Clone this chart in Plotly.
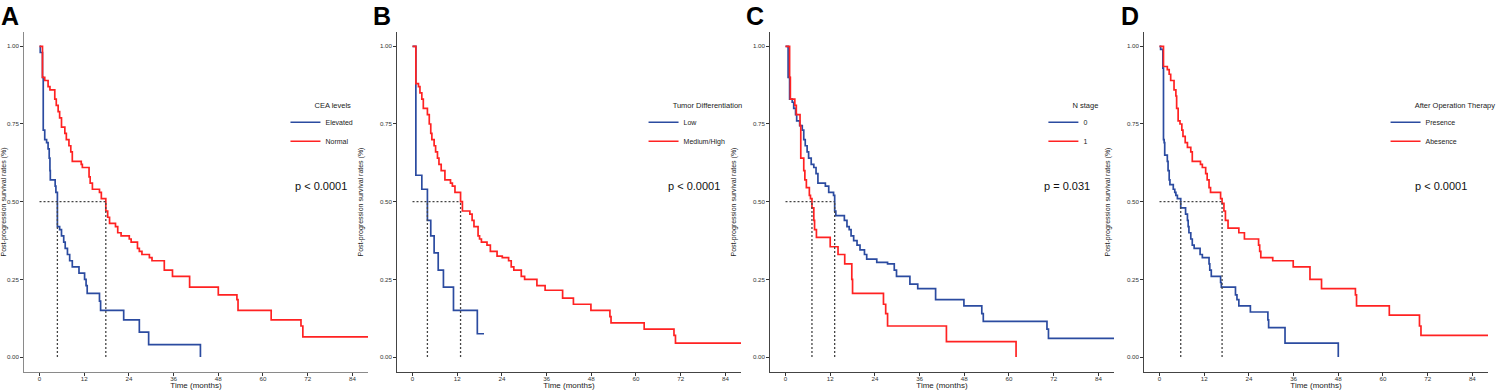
import plotly.graph_objects as go

# ---------------- data ----------------
# Panel A: CEA levels
a_elev_t = [0, 0.2, 0.8, 1.0, 1.4, 1.9, 2.3, 2.6, 2.8, 2.9, 4.2, 4.4, 4.8, 5.4, 5.9, 6.5, 6.9, 7.5, 8.1, 8.8,
            10.6, 12.1, 12.5, 12.8, 16.1, 16.4, 22.6, 26.8, 29.3, 43.2]
a_elev_s = [1.0, 0.98, 0.90, 0.73, 0.70, 0.69, 0.67, 0.64, 0.60, 0.57, 0.55, 0.53, 0.42, 0.41, 0.39, 0.37, 0.35, 0.33, 0.31, 0.29,
            0.27, 0.25, 0.23, 0.205, 0.18, 0.15, 0.12, 0.08, 0.04, 0.0]
a_norm_t = [0, 0.8, 1.4, 2.3, 2.8, 4.1, 4.5, 5.0, 5.4, 5.9, 6.8, 7.2, 7.9, 8.4, 8.8, 11.2, 11.5, 13.3, 13.6, 14.2,
            16.1, 16.6, 17.8, 18.3, 18.8, 20.4, 21.0, 21.9, 24.1, 24.6, 26.3, 26.8, 27.5, 29.5, 30.2, 33.5, 35.7,
            40.3, 48.0, 53.0, 53.3, 62.2, 70.2, 70.7, 88.2]
a_norm_s = [1.0, 0.90, 0.89, 0.87, 0.86, 0.83, 0.81, 0.79, 0.77, 0.74, 0.72, 0.70, 0.68, 0.66, 0.63, 0.62, 0.61, 0.58, 0.56, 0.54,
            0.53, 0.51, 0.47, 0.45, 0.43, 0.42, 0.40, 0.39, 0.38, 0.37, 0.35, 0.34, 0.33, 0.32, 0.31, 0.28, 0.26,
            0.225, 0.20, 0.185, 0.15, 0.12, 0.10, 0.065, 0.065]

# Panel B: Tumor Differentiation
b_low_t = [0, 0.9, 2.5, 4.0, 4.9, 5.8, 6.9, 8.3, 11.0, 17.4, 19.2]
b_low_s = [1.0, 0.585, 0.54, 0.44, 0.39, 0.335, 0.28, 0.225, 0.15, 0.075, 0.075]
b_mh_t = [0, 0.9, 1.6, 2.0, 2.5, 2.9, 4.0, 4.5, 4.9, 5.2, 5.8, 6.2, 6.7, 7.1, 7.7, 8.7, 10.2, 10.7, 11.4, 12.9,
          13.4, 15.4, 16.0, 16.5, 17.6, 18.0, 18.5, 20.0, 20.9, 22.7, 24.1, 25.8, 26.5, 27.2, 29.2, 30.1, 33.4,
          35.6, 40.3, 43.2, 47.9, 53.0, 53.3, 62.2, 70.2, 70.6, 88.2]
b_mh_s = [1.0, 0.88, 0.87, 0.85, 0.83, 0.80, 0.78, 0.75, 0.72, 0.70, 0.68, 0.66, 0.64, 0.62, 0.60, 0.57, 0.56, 0.55, 0.53, 0.50,
          0.47, 0.46, 0.44, 0.42, 0.39, 0.38, 0.37, 0.36, 0.34, 0.325, 0.32, 0.31, 0.29, 0.28, 0.26, 0.25, 0.23,
          0.215, 0.19, 0.17, 0.15, 0.13, 0.11, 0.09, 0.07, 0.045, 0.045]

# Panel C: N stage
c_n0_t = [0, 0.7, 1.1, 1.8, 2.2, 2.7, 3.0, 3.8, 4.5, 4.9, 5.3, 5.8, 6.2, 6.9, 7.6, 8.2, 8.7, 10.7, 11.6, 12.9,
          13.2, 13.5, 15.8, 16.5, 17.1, 17.6, 18.3, 19.2, 20.0, 21.2, 21.8, 24.5, 27.4, 29.2, 29.8, 33.4, 35.5,
          40.3, 47.9, 52.7, 53.1, 70.2, 70.6, 88.2]
c_n0_s = [1.0, 0.90, 0.83, 0.82, 0.80, 0.78, 0.76, 0.745, 0.73, 0.70, 0.68, 0.66, 0.64, 0.62, 0.61, 0.59, 0.56, 0.55, 0.53, 0.52,
          0.47, 0.455, 0.44, 0.42, 0.41, 0.39, 0.375, 0.36, 0.345, 0.33, 0.315, 0.305, 0.30, 0.28, 0.26, 0.235, 0.22,
          0.185, 0.165, 0.14, 0.115, 0.09, 0.06, 0.06]
c_n1_t = [0, 1.1, 1.3, 2.5, 2.9, 3.9, 4.1, 4.9, 5.2, 5.6, 6.4, 6.7, 7.1, 7.6, 7.8, 8.3, 12.0, 14.1, 15.9, 17.8,
          18.0, 26.3, 26.9, 27.4, 43.2, 61.9]
c_n1_s = [1.0, 0.90, 0.83, 0.81, 0.78, 0.745, 0.64, 0.60, 0.57, 0.545, 0.52, 0.51, 0.48, 0.44, 0.41, 0.385, 0.355, 0.33, 0.30, 0.25,
          0.205, 0.17, 0.14, 0.10, 0.05, 0.0]

# Panel D: After Operation Therapy
d_pre_t = [0, 0.3, 0.9, 1.07, 1.25, 1.4, 2.1, 2.3, 2.6, 2.8, 3.7, 4.1, 4.4, 4.8, 5.7, 7.0, 7.5, 7.7, 7.9, 8.4,
           8.8, 9.3, 10.9, 11.5, 13.3, 13.5, 13.9, 16.4, 16.6, 20.4, 20.8, 21.3, 24.4, 29.1, 29.3, 33.7, 48.0]
d_pre_s = [1.0, 0.99, 0.93, 0.70, 0.69, 0.65, 0.63, 0.60, 0.57, 0.555, 0.54, 0.53, 0.52, 0.51, 0.48, 0.46, 0.44, 0.42, 0.40, 0.38,
           0.36, 0.35, 0.33, 0.32, 0.30, 0.28, 0.26, 0.24, 0.225, 0.20, 0.185, 0.165, 0.145, 0.12, 0.095, 0.045, 0.0]
d_abs_t = [0, 1.07, 2.1, 2.6, 3.0, 3.9, 4.4, 4.6, 5.0, 5.5, 6.0, 6.3, 6.9, 7.5, 8.4, 8.8, 11.0, 11.5, 12.4, 12.8,
           13.3, 13.7, 16.4, 16.8, 17.3, 17.7, 18.4, 21.3, 22.8, 26.6, 26.9, 27.2, 30.4, 35.9, 40.4, 43.5, 52.6,
           52.9, 61.7, 69.8, 70.2, 88.2]
d_abs_s = [1.0, 0.935, 0.925, 0.91, 0.89, 0.86, 0.84, 0.80, 0.76, 0.75, 0.73, 0.71, 0.69, 0.675, 0.66, 0.63, 0.62, 0.61, 0.59, 0.57,
           0.545, 0.53, 0.51, 0.495, 0.47, 0.44, 0.415, 0.40, 0.38, 0.36, 0.34, 0.32, 0.31, 0.29, 0.25, 0.22, 0.20,
           0.165, 0.135, 0.10, 0.07, 0.07]

panel_letters = ["A", "B", "C", "D"]
legend_titles = ["CEA levels", "Tumor Differentiation", "N stage", "After Operation Therapy"]
blue_names = ["Elevated", "Low", "0", "Presence"]
red_names = ["Normal", "Medium/High", "1", "Abesence"]
p_values = ["p < 0.0001", "p < 0.0001", "p = 0.031", "p < 0.0001"]
x_ticks = [0, 12, 24, 36, 48, 60, 72, 84]
y_ticks = [0.0, 0.25, 0.5, 0.75, 1.0]

blue_curves = [(a_elev_t, a_elev_s), (b_low_t, b_low_s), (c_n0_t, c_n0_s), (d_pre_t, d_pre_s)]
red_curves = [(a_norm_t, a_norm_s), (b_mh_t, b_mh_s), (c_n1_t, c_n1_s), (d_abs_t, d_abs_s)]

# ---------------- styling ----------------
W, H = 1498, 390
FONT = "Liberation Sans, Arial, Helvetica, sans-serif"
BLUE = "#2B4BA0"
RED = "#FF2222"
plot_left_px = [24, 399, 774, 1150]
plot_w_px = 346
plot_top_px, plot_bot_px = 32, 372
axis_colors = ["#8a8a8a", "#444444", "#444444", "#444444"]
letter_px = [10, 384, 759, 1136]
legend_px = [287, 647, 1049, 1393]
NBSP = "\u00a0"


def median_time(t, s):
    for ti, si in zip(t, s):
        if si <= 0.5:
            return ti
    return None


fig = go.Figure()
layout = dict(
    width=W, height=H,
    margin=dict(l=0, r=0, t=0, b=0),
    paper_bgcolor="white", plot_bgcolor="white",
    font=dict(family=FONT, color="#222"),
    annotations=[],
)

for i in range(4):
    sfx = "" if i == 0 else str(i + 1)
    xa, ya = "x" + sfx, "y" + sfx
    leg = "legend" + sfx
    x0 = plot_left_px[i] / W
    x1 = (plot_left_px[i] + plot_w_px) / W
    ydom = [(H - plot_bot_px) / H, (H - plot_top_px) / H]

    bt, bs = blue_curves[i]
    rt, rs = red_curves[i]
    fig.add_trace(go.Scatter(x=bt, y=bs, mode="lines", line=dict(color=BLUE, width=1.7, shape="hv"),
                             name=blue_names[i], xaxis=xa, yaxis=ya, legend=leg))
    fig.add_trace(go.Scatter(x=rt, y=rs, mode="lines", line=dict(color=RED, width=1.7, shape="hv"),
                             name=red_names[i], xaxis=xa, yaxis=ya, legend=leg))

    mb = median_time(bt, bs)
    mr = median_time(rt, rs)
    mmax = max(mb, mr)
    dot = dict(color="#444444", width=1.3, dash="2px,2px")
    fig.add_trace(go.Scatter(x=[0, mmax], y=[0.5, 0.5], mode="lines", line=dot, showlegend=False,
                             hoverinfo="skip", xaxis=xa, yaxis=ya))
    for m in (mb, mr):
        fig.add_trace(go.Scatter(x=[m, m], y=[0, 0.5], mode="lines", line=dot, showlegend=False,
                                 hoverinfo="skip", xaxis=xa, yaxis=ya))

    axcommon = dict(showgrid=False, zeroline=False, showline=True, linecolor=axis_colors[i], linewidth=1.3,
                    ticks="outside", ticklen=2.5, tickwidth=1, tickcolor="#333",
                    tickfont=dict(size=6.2, color="#333", family=FONT), automargin=False)
    layout["xaxis" + sfx] = dict(axcommon, domain=[x0, x1], range=[-4.2, 88.2], tickvals=x_ticks,
                                 anchor=ya, ticklabelstandoff=-2,
                                 title=dict(text="Time (months)", font=dict(size=8, color="#222")))
    layout["yaxis" + sfx] = dict(axcommon, domain=ydom, range=[-0.048, 1.046], tickvals=y_ticks,
                                 tickformat=".2f", anchor=xa,
                                 title=dict(text="Post-progression survival rates (%)",
                                            font=dict(size=7, color="#222")))
    layout[leg] = dict(x=legend_px[i] / W, y=1 - 98 / H, xanchor="left", yanchor="top",
                       bgcolor="rgba(0,0,0,0)", borderwidth=0,
                       font=dict(size=7, color="#222", family=FONT),
                       title=dict(text=NBSP * 13 + legend_titles[i],
                                  font=dict(size=7.5, color="#222", family=FONT), side="top"),
                       tracegroupgap=0, itemwidth=30)
    layout["annotations"].append(dict(text=p_values[i], x=75.5, y=0.55, xref=xa, yref=ya, showarrow=False,
                                      xanchor="center", yanchor="middle",
                                      font=dict(size=11, color="#111", family=FONT)))
    layout["annotations"].append(dict(text="<b>" + panel_letters[i] + "</b>", x=letter_px[i] / W, y=1 - 16 / H,
                                      xref="paper", yref="paper", showarrow=False, xanchor="center",
                                      yanchor="middle", font=dict(size=25, color="black", family=FONT)))

fig.update_layout(**layout)
fig.write_html("out.html", config={"displayModeBar": False},
               post_script="document.body.style.margin='0';document.body.style.overflow='hidden';")
